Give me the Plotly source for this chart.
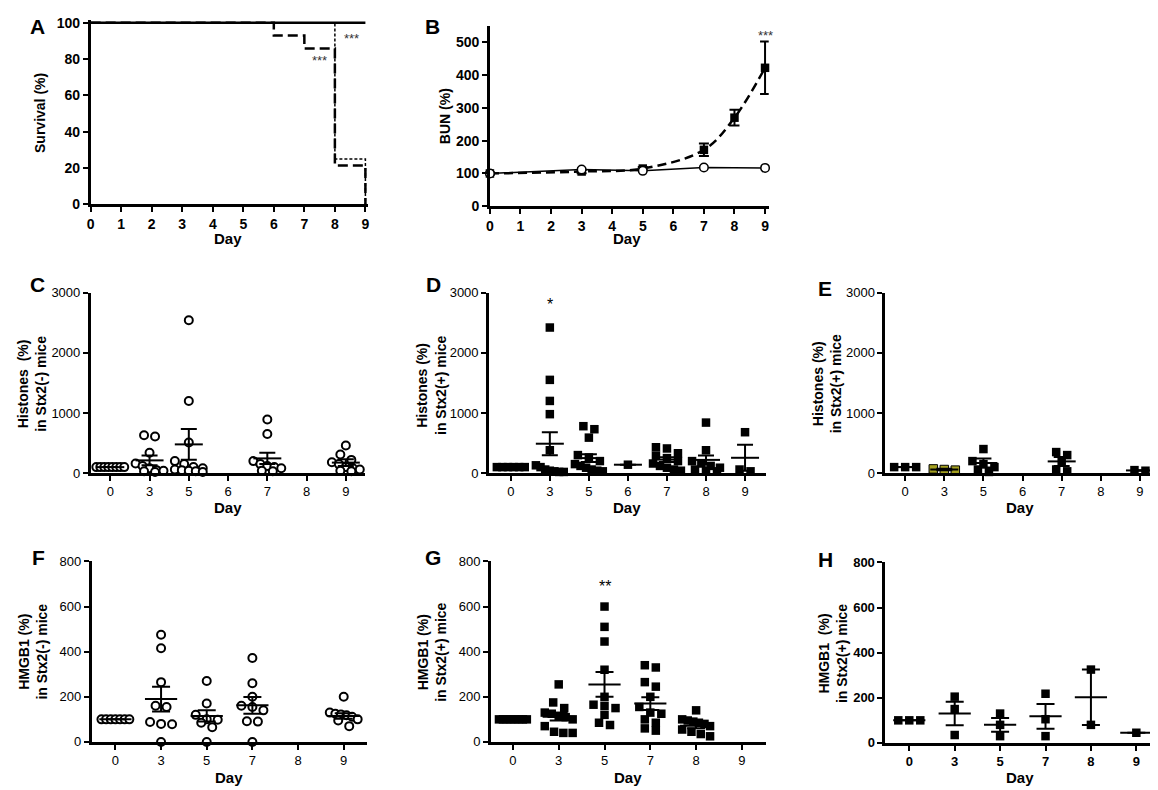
import plotly.graph_objects as go

W, H = 1158, 790
FONT = "Liberation Sans, Arial, Helvetica, sans-serif"
OLIVE = "#a39f1f"

# -----------------------
# Data
# -----------------------

# A: survival (%)
surv_days_neg = [0, 9]
surv_neg = [100, 100]
surv_days_pos = [0, 6, 7, 8, 9]
surv_pos = [100, 92.9, 85.7, 21.4, 0]
surv_days_pos2 = [0, 8, 9]
surv_pos2 = [100, 25, 0]

# B: BUN (%)
bun_days_neg = [0, 3, 5, 7, 9]
bun_neg = [100, 112, 108, 118, 117]
bun_days_pos = [0, 3, 5, 7, 8, 9]
bun_pos = [100, 106, 115, 172, 270, 422]
bun_pos_sem = [3, 5, 5, 19, 24, 80]

# C-E: histones (%)
hist_days = ["0", "3", "5", "6", "7", "8", "9"]

c_vals = [
    [100, 100, 100, 100, 100, 100, 100, 100],
    [630, 610, 340, 160, 120, 80, 50, 40, 30, 20],
    [2540, 1200, 510, 200, 150, 100, 80, 60, 50, 40, 30, 20],
    [],
    [890, 650, 200, 150, 120, 100, 80, 40, 30],
    [],
    [460, 310, 220, 180, 150, 100, 80, 60, 40, 30],
]
c_mean = [100, 212, 478, None, 245, None, 175]
c_sem = [0, 80, 255, None, 95, None, 55]

d_vals = [
    [100, 100, 100, 100, 100, 100],
    [2420, 1550, 1200, 980, 380, 130, 100, 60, 40, 30, 20, 20],
    [780, 730, 590, 300, 260, 200, 150, 120, 90, 60, 40, 30],
    [140],
    [430, 410, 330, 290, 250, 200, 160, 120, 90, 60, 40],
    [840, 380, 200, 160, 120, 90, 60, 40, 30],
    [680, 60, 30],
]
d_mean = [100, 489, 250, 140, 225, 220, 255]
d_sem = [0, 190, 65, 0, 40, 75, 215]

e_vals = [
    [100, 100, 100],
    [70, 60, 50],
    [400, 200, 150, 100, 60, 20],
    [],
    [350, 300, 200, 60, 30],
    [],
    [50, 40],
]
e_mean = [100, 60, 168, None, 195, None, 45]
e_sem = [0, 12, 75, 0, 75, None, 5]
e_olive_days = ["3"]

# F-H: HMGB1 (%)
hmgb_days = ["0", "3", "5", "7", "8", "9"]

f_vals = [
    [100, 100, 100, 100, 100, 100, 100],
    [475, 415, 265, 160, 155, 88, 80, 78, 0],
    [270, 170, 120, 100, 98, 85, 65, 0],
    [372, 260, 200, 160, 155, 140, 92, 90, 0],
    [],
    [200, 130, 125, 122, 118, 112, 100, 95, 70],
]
f_mean = [100, 190, 115, 162, None, 115]
f_sem = [0, 55, 25, 37, None, 12]

g_vals = [
    [100, 100, 100, 100, 100, 100, 100, 100],
    [255, 175, 150, 130, 125, 115, 110, 100, 70, 45, 40, 40],
    [600, 510, 445, 320, 200, 165, 160, 150, 120, 85, 75],
    [340, 330, 265, 245, 200, 155, 130, 125, 100, 85, 60, 50],
    [140, 100, 95, 90, 85, 80, 70, 55, 45, 35, 25],
    [],
]
g_mean = [100, 112, 255, 170, 72, None]
g_sem = [0, 17, 55, 28, 11, None]

h_vals = [
    [100, 100, 100],
    [205, 150, 35],
    [130, 80, 30],
    [218, 105, 30],
    [325, 80],
    [45],
]
h_mean = [100, 130, 80, 118, 202, 45]
h_sem = [0, 52, 30, 55, 123, 0]

# -----------------------
# Helpers
# -----------------------

fig = go.Figure()
layout = {}
notes = []


def font(size, bold):
    return dict(family=FONT, size=size, color="black",
                weight="bold" if bold else "normal")


def note(text, x, y, size=14, bold=True, angle=0):
    notes.append(dict(text=text, x=x / W, y=1 - y / H, xref="paper",
                      yref="paper", showarrow=False, textangle=angle,
                      font=font(size, bold), xanchor="center",
                      yanchor="middle"))


def star(text, x, y, xs, ys, size=13, color="#333333"):
    notes.append(dict(text=text, x=x, y=y, xref=xs, yref=ys,
                      showarrow=False,
                      font=dict(family=FONT, size=size, color=color)))


def add_axes(n, x0, x1, y0, y1, xr, yr, xticks, xlabels, yticks, tsize, bold):
    xk = "xaxis" if n == 1 else "xaxis%d" % n
    yk = "yaxis" if n == 1 else "yaxis%d" % n
    xs = "x" if n == 1 else "x%d" % n
    ys = "y" if n == 1 else "y%d" % n
    common = dict(showline=True, linecolor="black", linewidth=2.5,
                  ticks="outside", ticklen=5, tickwidth=2, tickcolor="black",
                  showgrid=False, zeroline=False, fixedrange=True,
                  tickfont=font(tsize, bold))
    layout[xk] = dict(domain=[x0 / W, x1 / W], range=xr, anchor=ys,
                      tickmode="array", tickvals=xticks, ticktext=xlabels,
                      **common)
    layout[yk] = dict(domain=[1 - y1 / H, 1 - y0 / H], range=yr, anchor=xs,
                      tickmode="array", tickvals=yticks,
                      ticktext=[str(t) for t in yticks], **common)
    return xs, ys, (x1 - x0) / (xr[1] - xr[0]), (y1 - y0) / (yr[1] - yr[0])


def swarm(vals, ypx, cpx, msize):
    # put near-equal values in one row and spread the row sideways
    order = sorted(range(len(vals)), key=lambda i: -vals[i])
    rows = []
    for i in order:
        if rows and abs(vals[rows[-1][0]] - vals[i]) * ypx < msize * 0.9:
            rows[-1].append(i)
        else:
            rows.append([i])
    offs = [0.0] * len(vals)
    for row in rows:
        n = len(row)
        half = min((n - 1) * msize * 1.3 / 2, 14)
        for k, i in enumerate(row):
            off = -half + 2 * half * k / (n - 1) if n > 1 else 0
            offs[i] = off / cpx
    return offs


def dot_panel(n, box, xr, yr, days, vals, means, sems, yticks, filled,
              mean_size, cap, tsize=13, bold=False, olive_days=()):
    xs, ys, cpx, ypx = add_axes(n, *box, xr, yr, list(range(len(days))),
                                days, yticks, tsize, bold)
    px, py, cols = [], [], []
    for j, v in enumerate(vals):
        offs = swarm(v, ypx, cpx, 8.5)
        for val, o in zip(v, offs):
            px.append(j + o)
            py.append(val)
            cols.append(OLIVE if days[j] in olive_days else
                        ("black" if filled else "white"))
    if filled:
        marker = dict(symbol="square", size=8.5, color=cols,
                      line=dict(width=[1 if c == OLIVE else 0 for c in cols],
                                color="black"))
    else:
        marker = dict(symbol="circle", size=8, color=cols,
                      line=dict(width=2, color="black"))
    fig.add_trace(go.Scatter(x=px, y=py, mode="markers", marker=marker,
                             xaxis=xs, yaxis=ys, cliponaxis=False,
                             showlegend=False, hoverinfo="y"))
    mx = [j for j, m in enumerate(means) if m is not None]
    fig.add_trace(go.Scatter(
        x=mx, y=[means[j] for j in mx], mode="markers",
        marker=dict(symbol="line-ew", size=mean_size,
                    line=dict(width=2, color="black")),
        error_y=dict(type="data", array=[sems[j] or 0 for j in mx],
                     color="black", thickness=2, width=cap),
        xaxis=xs, yaxis=ys, cliponaxis=False, showlegend=False,
        hoverinfo="y"))


# -----------------------
# A: survival
# -----------------------

xs, ys, _, _ = add_axes(1, 79, 358, 5, 193, [0, 9.1], [0, 101.5],
                        list(range(10)), [str(i) for i in range(10)],
                        [0, 20, 40, 60, 80, 100], 14, True)
fig.add_trace(go.Scatter(x=surv_days_pos2, y=surv_pos2, mode="lines",
                         line=dict(shape="hv", color="black", width=1.5,
                                   dash="3px,2px"),
                         xaxis=xs, yaxis=ys, showlegend=False))
fig.add_trace(go.Scatter(x=surv_days_pos, y=surv_pos, mode="lines",
                         line=dict(shape="hv", color="black", width=2.5,
                                   dash="10px,5px"),
                         xaxis=xs, yaxis=ys, showlegend=False))
fig.add_trace(go.Scatter(x=surv_days_neg, y=surv_neg, mode="lines",
                         line=dict(shape="hv", color="black", width=2.5),
                         xaxis=xs, yaxis=ys, showlegend=False))
star("***", 8.55, 91, xs, ys)
star("***", 7.5, 79, xs, ys)

# -----------------------
# B: BUN
# -----------------------

xs, ys, _, _ = add_axes(2, 480, 760, 11, 195, [0, 9.12], [0, 550],
                        list(range(10)), [str(i) for i in range(10)],
                        [0, 100, 200, 300, 400, 500], 14, True)
fig.add_trace(go.Scatter(x=bun_days_pos, y=bun_pos, mode="lines+markers",
                         line=dict(shape="spline", color="black", width=2.5,
                                   dash="9px,5px"),
                         marker=dict(symbol="square", size=8.5, color="black"),
                         error_y=dict(type="data", array=bun_pos_sem,
                                      color="black", thickness=2, width=5),
                         xaxis=xs, yaxis=ys, cliponaxis=False,
                         showlegend=False))
fig.add_trace(go.Scatter(x=bun_days_neg, y=bun_neg, mode="lines+markers",
                         line=dict(color="black", width=1.5),
                         marker=dict(symbol="circle", size=8.5, color="white",
                                     line=dict(width=1.5, color="black")),
                         xaxis=xs, yaxis=ys, cliponaxis=False,
                         showlegend=False))
star("***", 9.02, 521, xs, ys)

# -----------------------
# C-E: histones
# -----------------------

hist_ticks = [0, 1000, 2000, 3000]
dot_panel(3, (79, 355, 283, 467), [-0.5, 6.5], [0, 3000], hist_days,
          c_vals, c_mean, c_sem, hist_ticks, False, 20, 8)
dot_panel(4, (479, 757, 283, 467), [-0.56, 6.53], [0, 3000], hist_days,
          d_vals, d_mean, d_sem, hist_ticks, True, 20, 8)
dot_panel(5, (877, 1147, 283, 467), [-0.51, 6.36], [0, 3000], hist_days,
          e_vals, e_mean, e_sem, hist_ticks, True, 20, 8,
          olive_days=e_olive_days)
star("*", 1, 2800, "x4", "y4", size=16, color="black")

# -----------------------
# F-H: HMGB1
# -----------------------

hmgb_ticks = [0, 200, 400, 600, 800]
dot_panel(6, (80, 357, 557, 741), [-0.52, 5.52], [0, 800], hmgb_days,
          f_vals, f_mean, f_sem, hmgb_ticks, False, 23, 9)
dot_panel(7, (481, 757, 557, 741), [-0.48, 5.52], [0, 800], hmgb_days,
          g_vals, g_mean, g_sem, hmgb_ticks, True, 23, 9)
dot_panel(8, (877, 1147, 558, 742), [-0.53, 5.39], [0, 800], hmgb_days,
          h_vals, h_mean, h_sem, hmgb_ticks, True, 23, 9, bold=True)
star("**", 2, 687, "x7", "y7", size=16, color="black")

# -----------------------
# Titles and panel letters
# -----------------------

for letter, x, y in [("A", 26, 12), ("B", 422, 12), ("C", 26, 275),
                     ("D", 423, 275), ("E", 817, 279), ("F", 27, 553),
                     ("G", 423, 553), ("H", 817, 555)]:
    note(letter, x, y, size=21)

for x, y in [(217, 228), (618, 228), (217, 502), (618, 502), (1012, 502),
             (218, 777), (619, 777), (1012, 777)]:
    note("Day", x, y, size=15)

note("Survival (%)", 28, 100, angle=-90)
note("BUN (%)", 435, 103, angle=-90)
note("Histones  (%)<br>in Stx2(-) mice", 20, 376, angle=-90)
note("Histones (%)<br>in Stx2(+) mice", 421, 378, angle=-90)
note("Histones (%)<br>in Stx2(+) mice", 818, 376, angle=-90)
note("HMGB1 (%)<br>in Stx2(-) mice", 21, 649, angle=-90)
note("HMGB1 (%)<br>in Stx2(+) mice", 421, 650, angle=-90)
note("HMGB1  (%)<br>in Stx2(+) mice", 824, 651, angle=-90)

fig.update_layout(
    width=W, height=H,
    margin=dict(l=0, r=0, t=0, b=0),
    paper_bgcolor="white", plot_bgcolor="white",
    font=dict(family=FONT, color="black"),
    showlegend=False,
    annotations=notes,
    **layout
)

fig.write_html("out.html")
